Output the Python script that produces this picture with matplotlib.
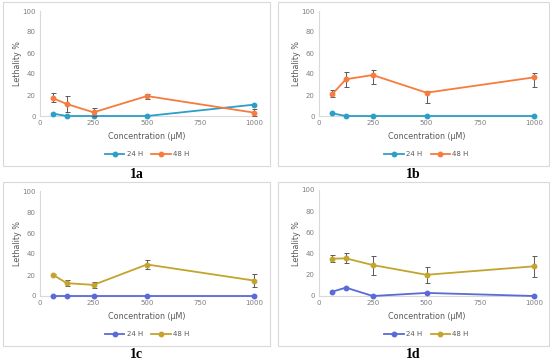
import matplotlib
matplotlib.use("Agg")
import matplotlib.pyplot as plt
from matplotlib.patches import Rectangle
from matplotlib.lines import Line2D
import numpy as np

conc = [62.5, 125, 250, 500, 1000]
xticks = [0, 250, 500, 750, 1000]
yticks = [0, 20, 40, 60, 80, 100]

# panel 1a
a24 = [2.2, 0, 0, 0, 10.8]
a48 = [16.8, 11.4, 3.5, 19.0, 3.2]
a48_lo = [3.8, 7.9, 3.5, 2.5, 3.2]
a48_hi = [4.8, 7.6, 4.4, 1.6, 3.8]
# panel 1b
b24 = [2.5, 0, 0, 0, 0]
b48 = [20.9, 35.0, 39.0, 22.2, 36.8]
b48_lo = [2.5, 7.0, 8.8, 9.5, 9.5]
b48_hi = [4.1, 7.0, 4.5, 1.9, 3.8]
# panel 1c
c24 = [0, 0, 0, 0, 0]
c48 = [20.0, 12.2, 10.6, 30.0, 14.7]
c48_lo = [0.5, 2.5, 3.4, 4.0, 6.5]
c48_hi = [0.5, 3.1, 3.2, 4.5, 6.3]
# panel 1d
d24 = [4.1, 7.9, 0, 2.9, 0]
d48 = [35.2, 35.5, 29.2, 20.0, 28.0]
d48_lo = [3.2, 4.5, 9.5, 7.3, 10.2]
d48_hi = [3.2, 4.8, 8.8, 7.0, 9.8]

series_names = ["24 H", "48 H"]

panels = [
    ("1a", a24, a48, a48_lo, a48_hi, "#2E9EC8", "#F77B3E"),
    ("1b", b24, b48, b48_lo, b48_hi, "#2E9EC8", "#F77B3E"),
    ("1c", c24, c48, c48_lo, c48_hi, "#5A6AD6", "#C4A42C"),
    ("1d", d24, d48, d48_lo, d48_hi, "#5A6AD6", "#C4A42C"),
]

W, H = 550, 361
fig = plt.figure(figsize=(W / 100, H / 100), dpi=100)
fig.patch.set_facecolor("white")

layout = [
    (3, 2, 270, 166, 40, 11, 254, 116),
    (278, 2, 549, 166, 319, 11, 534, 116),
    (3, 182, 270, 346, 40, 191, 254, 296),
    (278, 182, 549, 346, 319, 190, 534, 296),
]

def fx(px):
    return px / W

def fy(py):
    return 1 - py / H

grey = "#7F7F7F"
for (lab, s24, s48, lo, hi, c24col, c48col), (bl, bt, br, bb, al, at, ar, ab) in zip(panels, layout):
    fig.patches.append(Rectangle((fx(bl), fy(bb)), fx(br - bl), (bb - bt) / H,
                                 transform=fig.transFigure, fill=False,
                                 edgecolor="#D9D9D9", linewidth=0.8))
    ax = fig.add_axes([fx(al), fy(ab), fx(ar - al), (ab - at) / H])
    ax.set_xlim(0, 1000)
    ax.set_ylim(0, 100)
    ax.set_xticks(xticks)
    ax.set_yticks(yticks)
    ax.tick_params(labelsize=5, colors=grey, length=0, pad=3)
    for s in ["top", "right"]:
        ax.spines[s].set_visible(False)
    for s in ["left", "bottom"]:
        ax.spines[s].set_color("#D9D9D9")
        ax.spines[s].set_linewidth(0.8)
    ax.plot(conc, s24, color=c24col, lw=1.3, marker="o", ms=3.2, clip_on=False, zorder=3)
    ax.errorbar(conc, s48, yerr=[lo, hi], color=c48col, lw=1.3, marker="o", ms=3.2,
                ecolor="#595959", elinewidth=0.7, capsize=1.8, capthick=0.7,
                clip_on=False, zorder=4)
    ax.set_xlabel("Concentration (μM)", fontsize=5.8, color="#595959", labelpad=4)
    ax.set_ylabel("Lethality %", fontsize=5.8, color="#595959", labelpad=0)
    handles = [Line2D([], [], color=c24col, lw=1.3, marker="o", ms=3.2),
               Line2D([], [], color=c48col, lw=1.3, marker="o", ms=3.2)]
    ax.legend(handles, series_names, loc="center",
              bbox_to_anchor=(0.5, (ab - (bt + 152)) / (ab - at)),
              ncol=2, frameon=False, fontsize=5, labelcolor="#595959",
              handlelength=2.8, columnspacing=1.2, handletextpad=0.3)
    fig.text(fx((bl + br) / 2), fy(bb + 9), lab, ha="center", va="center",
             fontsize=10, fontweight="bold", family="Liberation Serif")

fig.savefig("out.png", dpi=100, facecolor="white")
